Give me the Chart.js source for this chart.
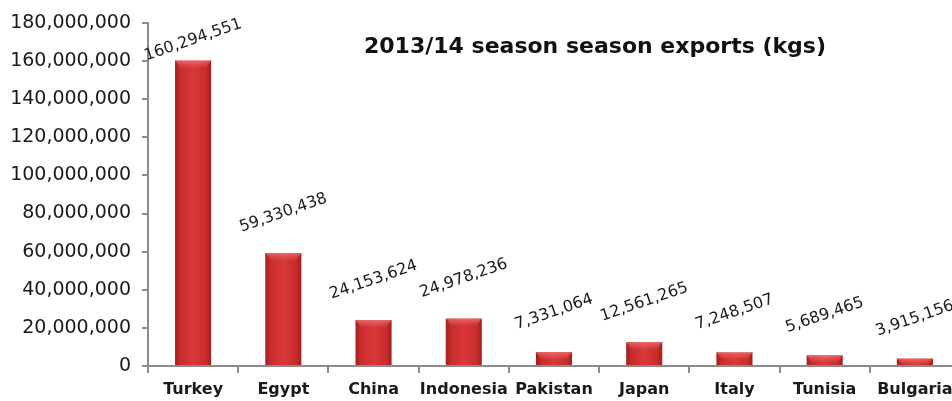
<!DOCTYPE html>
<html>
<head>
<meta charset="utf-8">
<script src="https://cdn.jsdelivr.net/npm/chart.js@4/dist/chart.umd.min.js"></script>
<style>
  html,body{margin:0;padding:0;background:#fff;overflow:hidden;}
  #wrap{width:960px;height:401px;position:relative;}
</style>
</head>
<body>
<div id="wrap"><canvas id="c"></canvas></div>
<script>
// 2013/14 exports by destination, kgs
const countries = ['Turkey','Egypt','China','Indonesia','Pakistan','Japan','Italy','Tunisia','Bulgaria'];
const exportsKg = [160294551, 59330438, 24153624, 24978236, 7331064, 12561265, 7248507, 5689465, 3915156];
const titleText = '2013/14 season season exports (kgs)';

const AXIS = '#8c8c8c';
const fmt = v => v.toLocaleString('en-US');

// shaded red bar: darker edges, bright middle
function barFill(ctx){
  const chart = ctx.chart;
  const xs = chart.scales && chart.scales.x;
  if(!chart.chartArea || !xs || ctx.dataIndex == null) return '#c62f2f';
  const cx = xs.getPixelForValue(ctx.dataIndex);
  const w = 36;
  if(!Number.isFinite(cx)) return '#c62f2f';
  const g = chart.ctx.createLinearGradient(cx - w/2, 0, cx + w/2, 0);
  g.addColorStop(0, '#a41f1f');
  g.addColorStop(0.15, '#c82c2c');
  g.addColorStop(0.5, '#d93838');
  g.addColorStop(0.85, '#c82c2c');
  g.addColorStop(1, '#a41f1f');
  return g;
}

// value labels, tilted, above each bar
const valueLabels = {
  id:'valueLabels',
  afterDatasetsDraw(chart){
    const {ctx, chartArea} = chart;
    const meta = chart.getDatasetMeta(0);
    ctx.save();
    ctx.font = '16px "DejaVu Sans"';
    ctx.fillStyle = '#1a1a1a';
    ctx.textAlign = 'center';
    ctx.textBaseline = 'middle';
    meta.data.forEach((bar, i) => {
      const y = Math.max(bar.y - 40, chartArea.top + 17);
      ctx.save();
      ctx.translate(bar.x, y);
      ctx.rotate(-19 * Math.PI/180);
      ctx.fillText(fmt(exportsKg[i]), 0, 0);
      ctx.restore();
    });
    ctx.restore();
  }
};

// bevel highlight at the top of each bar
const barTops = {
  id:'barTops',
  afterDatasetsDraw(chart){
    const {ctx} = chart;
    chart.getDatasetMeta(0).data.forEach(bar => {
      const w = bar.width, h = Math.min(8, bar.base - bar.y);
      const x0 = bar.x - w/2;
      ctx.save();
      const g = ctx.createLinearGradient(0, bar.y, 0, bar.y + h);
      g.addColorStop(0, 'rgba(255,150,150,0.55)');
      g.addColorStop(1, 'rgba(255,120,120,0)');
      ctx.fillStyle = g;
      ctx.beginPath();
      ctx.moveTo(x0, bar.y);
      ctx.lineTo(x0 + w, bar.y);
      ctx.lineTo(x0 + w - 6, bar.y + h);
      ctx.lineTo(x0 + 6, bar.y + h);
      ctx.closePath();
      ctx.fill();
      ctx.restore();
    });
  }
};

const chartTitle = {
  id:'chartTitle',
  afterDraw(chart){
    const {ctx} = chart;
    ctx.save();
    ctx.font = 'bold 22px "DejaVu Sans"';
    ctx.fillStyle = '#111';
    ctx.textAlign = 'center';
    ctx.textBaseline = 'middle';
    ctx.fillText(titleText, 595, 47);
    ctx.restore();
  }
};

new Chart(document.getElementById('c'), {
  type:'bar',
  data:{
    labels: countries,
    datasets:[{
      data: exportsKg,
      backgroundColor: barFill,
      borderWidth: 0,
      barPercentage: 0.4,
      categoryPercentage: 1
    }]
  },
  options:{
    responsive:true,
    maintainAspectRatio:false,
    animation:false,
    layout:{padding:{top:23, right:0, left:0, bottom:0}},
    plugins:{legend:{display:false}, tooltip:{enabled:false}},
    scales:{
      x:{
        grid:{display:true, drawOnChartArea:false, color:AXIS, lineWidth:2, tickLength:7, offset:true},
        border:{color:AXIS, width:2},
        ticks:{color:'#1a1a1a', font:{family:'DejaVu Sans', size:16, weight:'bold'}, padding:7, maxRotation:0, autoSkip:false},
        afterFit(s){ s.height = 35; }
      },
      y:{
        min:0, max:180000000,
        grid:{display:true, drawOnChartArea:false, color:AXIS, lineWidth:2, tickLength:6},
        border:{color:AXIS, width:2},
        ticks:{stepSize:20000000, color:'#1a1a1a', font:{family:'DejaVu Sans', size:19}, padding:11,
               callback:v => fmt(v)},
        afterFit(s){ s.width = 148; }
      }
    }
  },
  plugins:[valueLabels, barTops, chartTitle]
});
</script>
</body>
</html>
